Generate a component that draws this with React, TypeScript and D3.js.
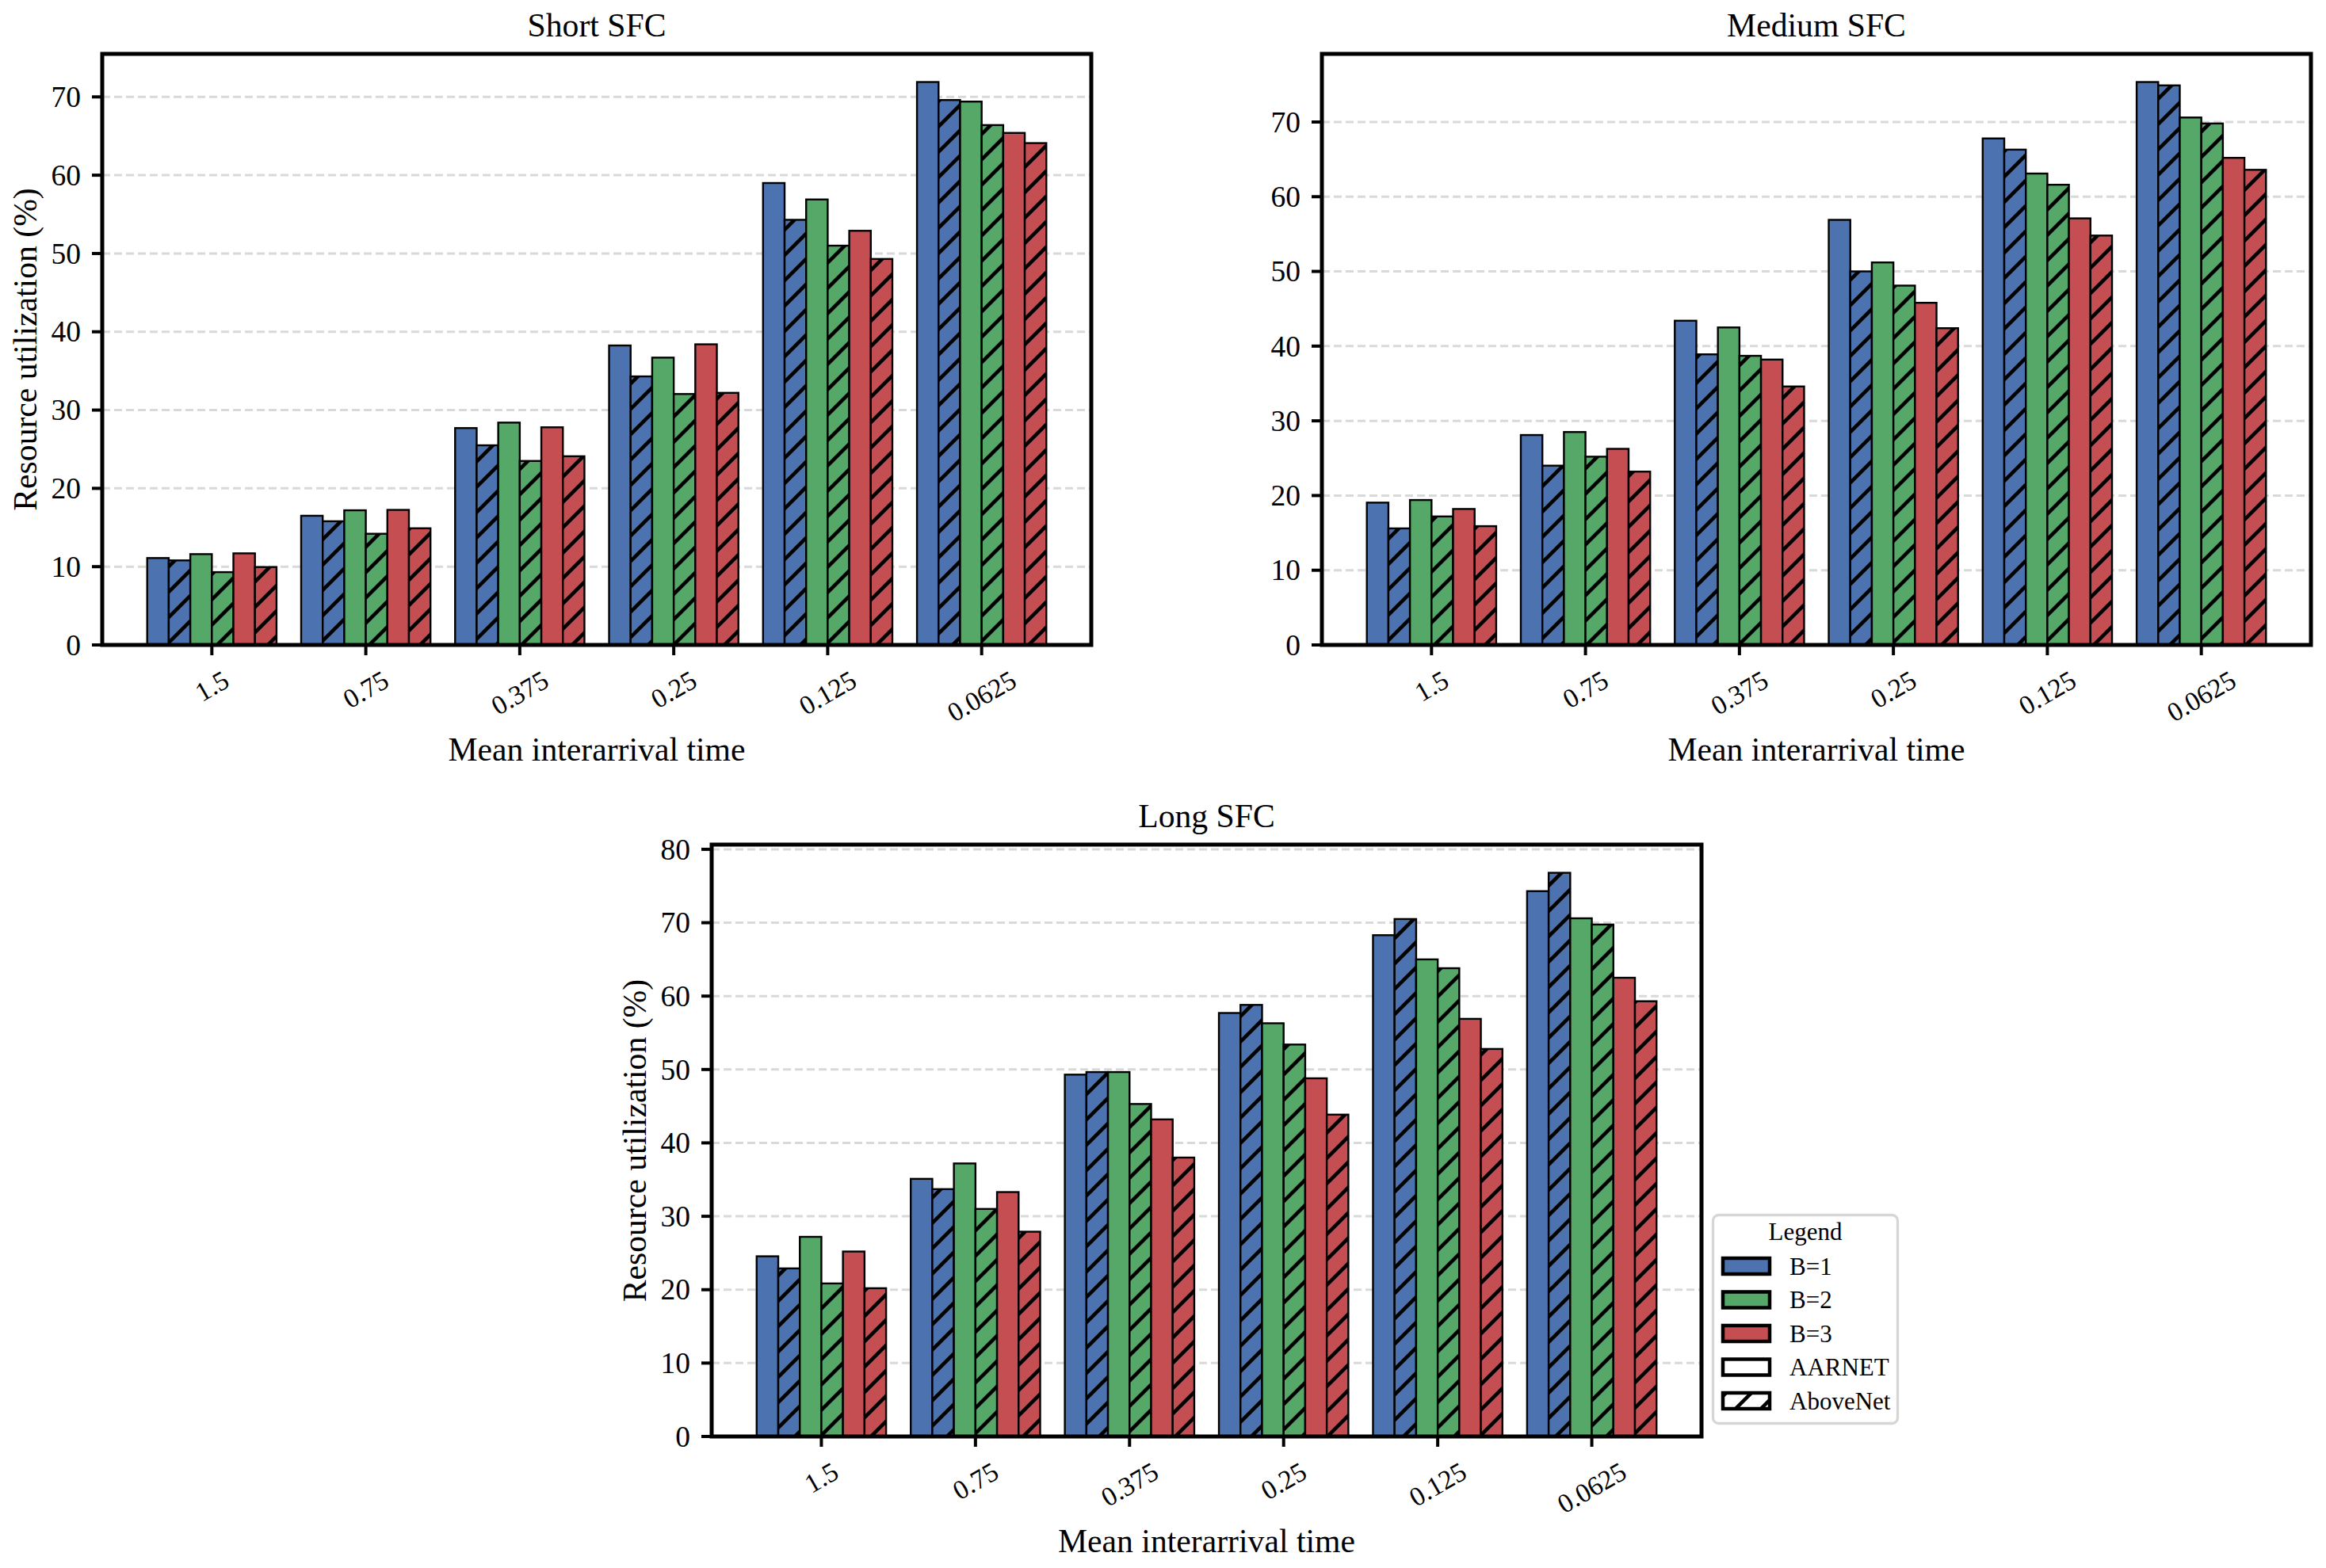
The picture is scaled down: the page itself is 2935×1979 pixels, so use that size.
import { useEffect, useRef } from "react"
import * as d3 from "d3"

const categories = ["1.5", "0.75", "0.375", "0.25", "0.125", "0.0625"]
const seriesNames = ["B=1 AARNET", "B=1 AboveNet", "B=2 AARNET", "B=2 AboveNet", "B=3 AARNET", "B=3 AboveNet"]
const legendLabels = ["B=1", "B=2", "B=3", "AARNET", "AboveNet"]

// Short SFC
const shortB1Aarnet = [11.1, 16.5, 27.7, 38.25, 59.0, 71.9]
const shortB1Above = [10.8, 15.8, 25.5, 34.3, 54.3, 69.6]
const shortB2Aarnet = [11.6, 17.2, 28.4, 36.7, 56.9, 69.4]
const shortB2Above = [9.3, 14.2, 23.5, 32.05, 51.0, 66.4]
const shortB3Aarnet = [11.7, 17.25, 27.8, 38.4, 52.9, 65.4]
const shortB3Above = [9.95, 14.9, 24.1, 32.2, 49.3, 64.1]

// Medium SFC
const mediumB1Aarnet = [19.05, 28.1, 43.4, 56.9, 67.8, 75.35]
const mediumB1Above = [15.6, 24.0, 38.9, 50.0, 66.3, 74.9]
const mediumB2Aarnet = [19.4, 28.5, 42.5, 51.2, 63.1, 70.6]
const mediumB2Above = [17.2, 25.2, 38.7, 48.1, 61.6, 69.8]
const mediumB3Aarnet = [18.2, 26.25, 38.2, 45.8, 57.1, 65.2]
const mediumB3Above = [15.9, 23.2, 34.6, 42.4, 54.8, 63.6]

// Long SFC
const longB1Aarnet = [24.55, 35.1, 49.3, 57.7, 68.3, 74.3]
const longB1Above = [22.9, 33.7, 49.65, 58.8, 70.5, 76.8]
const longB2Aarnet = [27.2, 37.2, 49.65, 56.3, 65.0, 70.6]
const longB2Above = [20.85, 31.0, 45.3, 53.4, 63.8, 69.75]
const longB3Aarnet = [25.2, 33.3, 43.2, 48.8, 56.9, 62.5]
const longB3Above = [20.2, 27.9, 38.0, 43.85, 52.8, 59.3]

const colors = ["#4C72B0", "#55A868", "#C44E52"]
const FONT = "'Liberation Serif', 'Times New Roman', Times, serif"

const panels = [
  {
    title: "Short SFC",
    series: [shortB1Aarnet, shortB1Above, shortB2Aarnet, shortB2Above, shortB3Aarnet, shortB3Above],
    box: { left: 129, top: 68, width: 1248, height: 746 },
    yLabel: true,
  },
  {
    title: "Medium SFC",
    series: [mediumB1Aarnet, mediumB1Above, mediumB2Aarnet, mediumB2Above, mediumB3Aarnet, mediumB3Above],
    box: { left: 1668, top: 68, width: 1248, height: 746 },
    yLabel: false,
  },
  {
    title: "Long SFC",
    series: [longB1Aarnet, longB1Above, longB2Aarnet, longB2Above, longB3Aarnet, longB3Above],
    box: { left: 898, top: 1066, width: 1249, height: 747 },
    yLabel: true,
  },
]

const W = 2935
const H = 1979
const barW = 0.14
const HP = 32 // hatch period in px

export default function App() {
  const svgRef = useRef<SVGSVGElement>(null)

  useEffect(() => {
    if (!svgRef.current) return
    const svg = d3.select(svgRef.current)
    svg.selectAll("*").remove()

    // hatch patterns, one per fill colour plus white for the legend
    const defs = svg.append("defs")
    const hatchFills = [...colors, "#ffffff"]
    const q = HP / 4
    hatchFills.forEach((c, i) => {
      const p = defs
        .append("pattern")
        .attr("id", `hatch-${i}`)
        .attr("patternUnits", "userSpaceOnUse")
        .attr("width", HP)
        .attr("height", HP)
      p.append("rect").attr("width", HP).attr("height", HP).attr("fill", c)
      p.append("path")
        .attr(
          "d",
          `M0,${HP} L${HP},0 M${-q},${q} L${q},${-q} M${HP - q},${HP + q} L${HP + q},${HP - q}`
        )
        .attr("stroke", "#000")
        .attr("stroke-width", 4.6)
        .attr("stroke-linecap", "square")
    })

    svg.append("rect").attr("width", W).attr("height", H).attr("fill", "#fff")

    panels.forEach((panel) => {
      const { left, top, width, height } = panel.box
      const bottom = top + height
      const g = svg.append("g")

      const lo = -0.42
      const hi = categories.length - 1 + 0.42
      const pad = (hi - lo) * 0.05
      const x = d3.scaleLinear().domain([lo - pad, hi + pad]).range([left, left + width])
      const ymax = (d3.max(panel.series.flat()) as number) * 1.05
      const y = d3.scaleLinear().domain([0, ymax]).range([bottom, top])
      const yTicks = d3.range(0, ymax, 10)

      // grid
      g.selectAll(".grid")
        .data(yTicks)
        .enter()
        .append("line")
        .attr("x1", left)
        .attr("x2", left + width)
        .attr("y1", (d) => y(d))
        .attr("y2", (d) => y(d))
        .attr("stroke", "#d9d9d9")
        .attr("stroke-width", 3)
        .attr("stroke-dasharray", "10,5")

      // bars
      panel.series.forEach((vals, si) => {
        const colorIdx = Math.floor(si / 2)
        const hatched = si % 2 === 1
        g.selectAll(`.bar-${si}`)
          .data(vals)
          .enter()
          .append("rect")
          .attr("class", `bar-${si}`)
          .attr("x", (_, j) => x(j - 0.42 + si * barW))
          .attr("width", x(barW) - x(0))
          .attr("y", (d) => y(d))
          .attr("height", (d) => bottom - y(d))
          .attr("fill", hatched ? `url(#hatch-${colorIdx})` : colors[colorIdx])
          .attr("stroke", "#000")
          .attr("stroke-width", 2.4)
          .append("title")
          .text((d, j) => `${seriesNames[si]} @ ${categories[j]}: ${d}`)
      })

      // frame
      g.append("rect")
        .attr("x", left)
        .attr("y", top)
        .attr("width", width)
        .attr("height", height)
        .attr("fill", "none")
        .attr("stroke", "#000")
        .attr("stroke-width", 5)

      // y ticks
      g.selectAll(".ytick")
        .data(yTicks)
        .enter()
        .append("line")
        .attr("x1", left - 13)
        .attr("x2", left)
        .attr("y1", (d) => y(d))
        .attr("y2", (d) => y(d))
        .attr("stroke", "#000")
        .attr("stroke-width", 4)
      g.selectAll(".ylab")
        .data(yTicks)
        .enter()
        .append("text")
        .attr("x", left - 27)
        .attr("y", (d) => y(d))
        .attr("dy", "0.34em")
        .attr("text-anchor", "end")
        .style("font-family", FONT)
        .style("font-size", "37.5px")
        .text((d) => d)

      // x ticks
      g.selectAll(".xtick")
        .data(categories)
        .enter()
        .append("line")
        .attr("x1", (_, j) => x(j))
        .attr("x2", (_, j) => x(j))
        .attr("y1", bottom)
        .attr("y2", bottom + 13)
        .attr("stroke", "#000")
        .attr("stroke-width", 4)

      const fs = 34
      g.selectAll(".xlab")
        .data(categories)
        .enter()
        .append("text")
        .attr("text-anchor", "middle")
        .attr("dominant-baseline", "central")
        .style("font-family", FONT)
        .style("font-size", `${fs}px`)
        .text((d) => d)
        .each(function (_, j) {
          const el = this as SVGTextElement
          const w = el.getComputedTextLength()
          const bh = w * Math.sin(Math.PI / 6) + fs * 1.1 * Math.cos(Math.PI / 6)
          const cx = x(j)
          const cy = bottom + 25 + bh / 2
          d3.select(el).attr("x", cx).attr("y", cy).attr("transform", `rotate(-30,${cx},${cy})`)
        })

      // titles and axis labels
      g.append("text")
        .attr("x", left + width / 2)
        .attr("y", top - 22)
        .attr("text-anchor", "middle")
        .style("font-family", FONT)
        .style("font-size", "41.7px")
        .text(panel.title)

      g.append("text")
        .attr("x", left + width / 2)
        .attr("y", bottom + 132)
        .attr("text-anchor", "middle")
        .attr("dominant-baseline", "central")
        .style("font-family", FONT)
        .style("font-size", "41.7px")
        .text("Mean interarrival time")

      if (panel.yLabel) {
        const cx = left - 97
        const cy = top + height / 2
        g.append("text")
          .attr("x", cx)
          .attr("y", cy)
          .attr("text-anchor", "middle")
          .attr("dominant-baseline", "central")
          .attr("transform", `rotate(-90,${cx},${cy})`)
          .style("font-family", FONT)
          .style("font-size", "41.7px")
          .text("Resource utilization (%)")
      }
    })

    // legend
    const lg = svg.append("g")
    lg.append("rect")
      .attr("x", 2161.5)
      .attr("y", 1533.5)
      .attr("width", 233)
      .attr("height", 263)
      .attr("rx", 7)
      .attr("fill", "#fff")
      .attr("stroke", "#d6d6d6")
      .attr("stroke-width", 3.3)
    lg.append("text")
      .attr("x", 2278)
      .attr("y", 1565)
      .attr("text-anchor", "middle")
      .style("font-family", FONT)
      .style("font-size", "31px")
      .text("Legend")

    const legendFills = [colors[0], colors[1], colors[2], "#ffffff", "url(#hatch-3)"]
    const rowY = d3.scaleLinear().domain([0, 4]).range([1598, 1768])
    legendLabels.forEach((label, i) => {
      const cy = rowY(i)
      lg.append("rect")
        .attr("x", 2174)
        .attr("y", cy - 10)
        .attr("width", 59)
        .attr("height", 20)
        .attr("fill", legendFills[i])
        .attr("stroke", "#000")
        .attr("stroke-width", 4.5)
      lg.append("text")
        .attr("x", 2258)
        .attr("y", cy + 10.5)
        .style("font-family", FONT)
        .style("font-size", "31px")
        .text(label)
    })
  }, [])

  return (
    <svg
      ref={svgRef}
      width={W}
      height={H}
      style={{ position: "absolute", left: 0, top: 0, display: "block" }}
    ></svg>
  )
}
